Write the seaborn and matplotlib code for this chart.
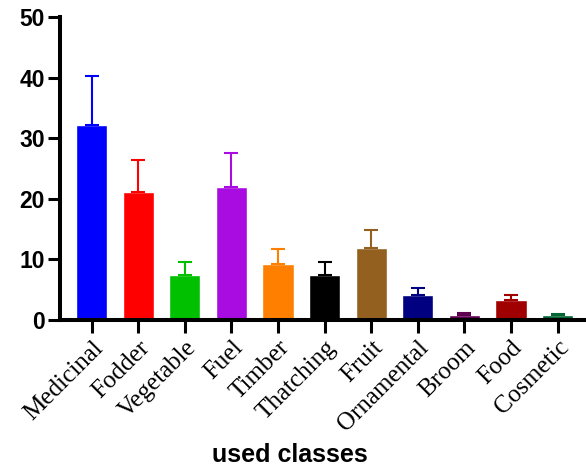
import numpy as np
import pandas as pd
import matplotlib
matplotlib.use("Agg")
import matplotlib.pyplot as plt
import seaborn as sns

# values
categories = ['Medicinal', 'Fodder', 'Vegetable', 'Fuel', 'Timber', 'Thatching',
              'Fruit', 'Ornamental', 'Broom', 'Food', 'Cosmetic']
means = [32.1, 21.1, 7.5, 22.0, 9.2, 7.5, 11.8, 4.1, 0.8, 3.25, 0.8]
upper = [40.3, 26.4, 9.5, 27.6, 11.7, 9.5, 14.8, 5.3, 1.1, 4.2, 1.05]
colors = ['#0000FF', '#FF0000', '#00C000', '#A80CE0', '#FF8000', '#000000',
          '#936020', '#000080', '#600050', '#A00000', '#006633']

df = pd.DataFrame({'cls': categories, 'val': means})
err = np.array(upper) - np.array(means)

sns.set_style('ticks')
plt.rcParams['font.family'] = ['Liberation Sans', 'DejaVu Sans']
plt.rcParams['text.color'] = 'black'
plt.rcParams['axes.edgecolor'] = 'black'
plt.rcParams['xtick.color'] = 'black'
plt.rcParams['ytick.color'] = 'black'
plt.rcParams['xtick.labelcolor'] = 'black'
plt.rcParams['ytick.labelcolor'] = 'black'

fig = plt.figure(figsize=(5.86, 4.73), dpi=100)
ax = fig.add_axes([0.1024, 0.3235, 0.8976, 0.6405])

sns.barplot(data=df, x='cls', y='val', hue='cls', palette=colors,
            width=0.67, legend=False, ax=ax, saturation=1)

# upper error bars only
for i, (m, e) in enumerate(zip(means, err)):
    ax.errorbar(i, m, yerr=[[0], [e]], color=colors[i], elinewidth=1.5,
                capsize=5, capthick=1.5, fmt='none', zorder=3)

ax.set_xlim(-0.68, 10.61)
ax.set_ylim(0, 50)
ax.set_yticks([0, 10, 20, 30, 40, 50])
ax.set_ylabel('')
ax.set_xlabel('')

for s in ['top', 'right']:
    ax.spines[s].set_visible(False)
for s in ['left', 'bottom']:
    ax.spines[s].set_linewidth(2.9)
ax.tick_params(axis='both', length=9, width=2.2, color='black')
ax.tick_params(axis='y', labelsize=16.5, pad=2)
for lab in ax.get_yticklabels():
    lab.set_fontweight('bold')

ax.set_xticks(range(len(categories)))
ax.set_xticklabels(categories, rotation=45, ha='right', va='top',
                   rotation_mode='anchor', fontsize=18,
                   family='Liberation Serif')
ax.tick_params(axis='x', pad=3)

fig.text(0.495, 0.038, 'used classes', ha='center', va='center',
         fontsize=18, fontweight='bold')

fig.savefig('out.png', dpi=100)
